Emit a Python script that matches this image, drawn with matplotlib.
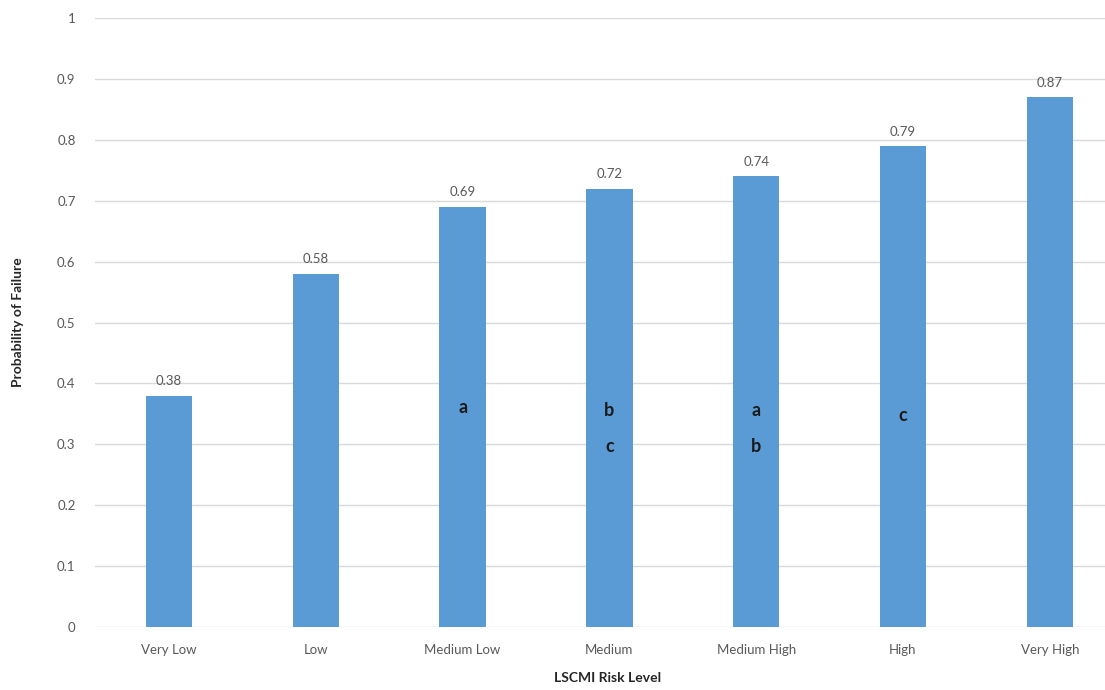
import matplotlib
matplotlib.use("Agg")
import matplotlib.pyplot as plt

categories = ["Very Low", "Low", "Medium Low", "Medium", "Medium High", "High", "Very High"]
values = [0.38, 0.58, 0.69, 0.72, 0.74, 0.79, 0.87]
yticks = [0, 0.1, 0.2, 0.3, 0.4, 0.5, 0.6, 0.7, 0.8, 0.9, 1.0]
ytick_labels = ["0", "0.1", "0.2", "0.3", "0.4", "0.5", "0.6", "0.7", "0.8", "0.9", "1"]
# significance letters: (category index, y value, letter)
letter_cats = [2, 3, 3, 4, 4, 5]
letter_y = [0.36, 0.355, 0.297, 0.355, 0.297, 0.348]
letter_txt = ["a", "b", "c", "a", "b", "c"]

plt.rcParams['font.family'] = ['Lato', 'DejaVu Sans']

fig = plt.figure(figsize=(11.05, 6.9), dpi=100)
ax = fig.add_axes([95/1105, 1-627/690, 1-95/1105, (627-18)/690])

x = list(range(len(categories)))
ax.bar(x, values, width=0.315, color="#5B9BD5", zorder=3)

for xi, v in zip(x, values):
    ax.annotate(f"{v:.2f}", (xi, v), xytext=(0, 6), textcoords="offset points",
                ha="center", va="bottom", fontsize=9.5, color="#595959")

for ci, yv, t in zip(letter_cats, letter_y, letter_txt):
    ax.text(ci, yv, t, ha="center", va="center", fontsize=13, fontweight="bold",
            color="#1a1a1a", zorder=4)

ax.set_xlim(-0.504, 6.376)
ax.set_ylim(0, 1.0)
ax.set_yticks(yticks)
ax.set_yticklabels(ytick_labels)
ax.set_xticks(x)
ax.set_xticklabels(categories)
ax.tick_params(axis="both", length=0, labelsize=9.5, labelcolor="#595959")
ax.tick_params(axis="y", pad=14)
ax.tick_params(axis="x", pad=12)
ax.grid(axis="y", color="#D9D9D9", linewidth=1, zorder=0)
for s in ax.spines.values():
    s.set_visible(False)

fig.text(18/1105, 1-322/690, "Probability of Failure", rotation=90, ha="center", va="center",
         fontsize=10, fontweight="bold", color="#262626")
fig.text(608/1105, 1-678/690, "LSCMI Risk Level", ha="center", va="center",
         fontsize=10, fontweight="bold", color="#262626")

fig.savefig("out.png", dpi=100)
